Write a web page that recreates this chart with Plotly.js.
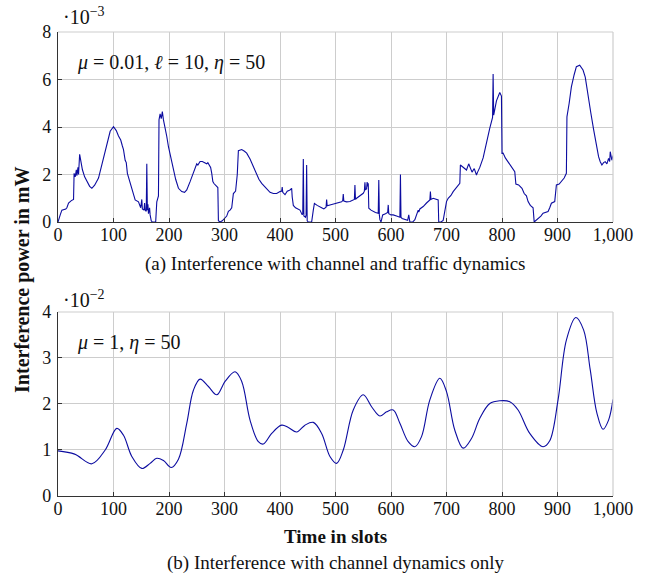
<!DOCTYPE html>
<html>
<head>
<meta charset="utf-8">
<script src="https://cdn.plot.ly/plotly-3.0.1.min.js"></script>
<style>
  html, body { margin: 0; padding: 0; background: #fff; }
  #chart { width: 647px; height: 573px; }
</style>
</head>
<body>
<div id="chart"></div>
<script>
// (a) interference with channel and traffic dynamics, power in units of 1e-3 mW
const topSlots = [
  0, 2, 4, 7, 14, 16, 19, 24, 28, 29, 31, 33, 34, 36, 37, 39, 41, 44, 48, 52, 57, 61, 66, 73, 79, 85, 90, 94,
  100, 105, 109, 113, 116, 118, 121, 123, 125, 128, 130, 133, 136, 139, 145, 149, 151, 152, 155, 156, 157, 159,
  160, 161, 162, 163, 165, 166, 168, 170, 176, 178, 181, 182, 184, 186, 188, 190, 193, 196, 199, 203, 208, 212,
  217, 223, 228, 232, 238, 244, 250, 252, 256, 260, 265, 268, 270, 273, 275, 277, 279, 281, 286, 288, 289, 292,
  296, 300, 304, 307, 310, 313, 316, 320, 323, 325, 331, 336, 340, 346, 352, 358, 362, 367, 374, 382, 388, 394,
  400, 403, 404, 405, 409, 413, 418, 421, 422, 424, 428, 432, 436, 440, 441, 442, 443, 446, 447, 448, 449, 451,
  457, 460, 462, 467, 470, 475, 479, 483, 484, 485, 490, 495, 500, 506, 511, 513, 514, 515, 520, 526, 530, 534,
  535, 536, 538, 544, 550, 552, 553, 554, 556, 557, 558, 559, 560, 564, 568, 572, 577, 578, 579, 580, 582, 585,
  590, 594, 595, 596, 600, 604, 610, 616, 617, 618, 620, 626, 630, 632, 633, 634, 639, 643, 649, 650, 652, 658,
  664, 670, 671, 672, 676, 681, 685, 686, 690, 694, 698, 700, 703, 708, 712, 718, 724, 725, 730, 736, 740, 742,
  746, 750, 754, 756, 760, 766, 772, 778, 783, 784, 785, 790, 796, 799, 800, 802, 806, 812, 818, 823, 825, 830,
  836, 840, 844, 847, 851, 856, 858, 862, 865, 870, 874, 879, 883, 886, 889, 895, 898, 903, 907, 912, 916, 917,
  921, 925, 930, 934, 940, 946, 950, 955, 960, 965, 968, 971, 974, 977, 980, 983, 986, 989, 992, 994, 995, 998, 1000
];
const topPower = [
  0.0, 0.2, 0.3, 0.5, 0.55, 0.6, 0.8, 0.9, 0.95, 2.05, 1.9, 2.2, 1.95, 2.3, 2.0, 2.85, 2.5, 2.2, 1.9, 1.72, 1.5, 1.42, 1.55, 1.85, 2.4, 2.96, 3.5, 3.82,
  4.01, 3.85, 3.62, 3.45, 3.2, 3.05, 2.6, 2.5, 2.05, 1.8, 1.63, 1.4, 1.1, 0.93, 0.85, 0.6, 0.95, 0.55, 0.5, 0.8, 0.5, 0.45,
  2.45, 0.5, 0.75, 0.35, 0.6, 0.3, 0.05, 0.0, 0.0, 0.85, 1.1, 4.3, 4.55, 4.35, 4.65, 4.3, 4.0, 3.6, 3.17, 2.7, 2.19, 1.8,
  1.42, 1.28, 1.25, 1.35, 1.7, 2.05, 2.45, 2.4, 2.55, 2.55, 2.5, 2.45, 2.5, 2.35, 2.3, 2.05, 1.7, 1.62, 1.5, 1.45, 0.05, 0.0,
  0.05, 0.15, 0.25, 0.45, 0.5, 0.6, 1.2, 1.3, 2.0, 3.0, 3.05, 2.98, 2.9, 2.65, 2.33, 2.05, 1.8, 1.63, 1.45, 1.25, 1.2, 1.2,
  1.28, 1.3, 1.47, 1.25, 1.15, 1.3, 1.35, 1.42, 1.05, 0.7, 0.6, 0.55, 0.5, 0.3, 0.35, 2.65, 0.25, 0.2, 0.3, 2.4, 0.05, 0.0,
  0.0, 0.5, 0.78, 0.7, 0.65, 0.6, 0.55, 0.62, 0.95, 0.68, 0.72, 0.75, 0.78, 0.82, 0.85, 0.9, 1.18, 0.88, 0.85, 0.86, 0.9, 0.95,
  1.56, 0.95, 1.0, 1.1, 1.21, 1.3, 1.67, 1.35, 1.4, 1.68, 1.5, 1.63, 0.58, 0.5, 0.44, 0.4, 0.37, 1.77, 0.3, 0.1, 0.0, 0.3,
  0.35, 0.4, 0.72, 0.35, 0.3, 0.3, 0.25, 0.2, 2.0, 0.2, 0.15, 0.1, 0.07, 0.3, 0.05, 0.0, 0.0, 0.1, 0.5, 0.42, 0.55, 0.65,
  0.8, 0.93, 1.28, 0.95, 1.0, 0.95, 0.93, 0.0, 0.0, 0.07, 0.5, 0.86, 1.0, 1.12, 1.28, 1.45, 1.63, 2.4, 2.3, 2.19, 2.45, 2.3,
  2.1, 2.25, 1.98, 2.1, 2.3, 2.7, 3.38, 3.95, 4.4, 6.23, 4.5, 5.1, 5.45, 5.3, 2.89, 2.9, 2.7, 2.5, 2.3, 2.12, 1.6, 1.56,
  1.42, 1.2, 1.1, 0.86, 0.7, 0.6, 0.0, 0.08, 0.15, 0.25, 0.37, 0.4, 0.44, 0.6, 0.79, 0.86, 1.56, 1.6, 1.7, 1.85, 2.05, 4.43,
  5.0, 5.69, 6.2, 6.54, 6.6, 6.4, 6.1, 5.28, 4.6, 3.9, 3.45, 3.03, 2.75, 2.54, 2.4, 2.5, 2.54, 2.45, 2.68, 2.55, 2.96, 2.6, 2.8
];

// (b) interference with channel dynamics only, power in units of 1e-2 mW
const bottomSlots = [
  0, 30, 61, 85, 106, 118, 133, 151, 166, 178, 190, 204, 217, 232, 244, 256, 271, 286, 301, 319, 331, 346,
  361, 370, 385, 403, 415, 430, 445, 460, 475, 490, 502, 514, 532, 550, 565, 580, 592, 604, 616, 631, 643,
  655, 670, 688, 700, 715, 730, 745, 760, 778, 796, 814, 829, 850, 874, 886, 901, 916, 933, 947, 959, 971,
  982, 992, 1000
];
const bottomPower = [
  0.98, 0.91, 0.7, 1.0, 1.47, 1.32, 0.86, 0.6, 0.71, 0.82, 0.77, 0.62, 0.8, 1.58, 2.3, 2.54, 2.38, 2.2, 2.49, 2.7, 2.49, 1.65,
  1.18, 1.13, 1.36, 1.54, 1.49, 1.39, 1.54, 1.6, 1.36, 0.86, 0.71, 1.0, 1.87, 2.2, 1.94, 1.74, 1.83, 1.87, 1.58, 1.18, 1.07,
  1.29, 2.09, 2.56, 2.27, 1.43, 1.04, 1.25, 1.69, 2.01, 2.07, 2.05, 1.87, 1.36, 1.07, 1.2, 2.09, 3.39, 3.88, 3.61, 2.74, 1.8,
  1.45, 1.65, 2.1
];

const xTicks = [0, 100, 200, 300, 400, 500, 600, 700, 800, 900, 1000];
const topTicks = [0, 2, 4, 6, 8];
const bottomTicks = [0, 1, 2, 3, 4];

const lineColor = '#0c0ca0';
const serif = 'Liberation Serif, Times New Roman, serif';
const gridColor = '#cdcdcd';
const axisColor = '#333333';

const traces = [
  {
    x: topSlots, y: topPower, xaxis: 'x', yaxis: 'y',
    type: 'scatter', mode: 'lines',
    line: { color: lineColor, width: 1.1 },
    hoverinfo: 'skip', showlegend: false
  },
  {
    x: bottomSlots, y: bottomPower, xaxis: 'x2', yaxis: 'y2',
    type: 'scatter', mode: 'lines',
    line: { color: lineColor, width: 1.1, shape: 'spline', smoothing: 1 },
    hoverinfo: 'skip', showlegend: false
  }
];

function xAxis(anchor) {
  return {
    anchor: anchor, domain: [0, 1], range: [0, 1000],
    tickvals: xTicks, tickformat: ',d',
    showgrid: true, gridcolor: gridColor, gridwidth: 1,
    zeroline: false, showline: true, linecolor: axisColor, linewidth: 1.2,
    ticks: 'inside', ticklen: 4, tickcolor: axisColor, ticklabelstandoff: -4,
    tickfont: { family: serif, size: 18, color: '#111' }
  };
}
function yAxis(anchor, domain, range, ticks) {
  return {
    anchor: anchor, domain: domain, range: range,
    tickvals: ticks,
    showgrid: true, gridcolor: gridColor, gridwidth: 1,
    zeroline: false, showline: true, linecolor: axisColor, linewidth: 1.2,
    ticks: 'inside', ticklen: 4, tickcolor: axisColor, ticklabelstandoff: 2,
    tickfont: { family: serif, size: 18, color: '#111' }
  };
}

// thin grey frame on the top and right edges of each panel
function frame(xr, yr) {
  return [
    { type: 'line', xref: xr + ' domain', yref: yr + ' domain', x0: 0, x1: 1, y0: 1, y1: 1,
      line: { color: gridColor, width: 1.2 } },
    { type: 'line', xref: xr + ' domain', yref: yr + ' domain', x0: 1, x1: 1, y0: 0, y1: 1,
      line: { color: gridColor, width: 1.2 } }
  ];
}

const txt = (text, x, y, opts) => Object.assign({
  text: text, x: x, y: y, xref: 'paper', yref: 'paper', showarrow: false,
  font: { family: serif, size: 18, color: '#111' }
}, opts || {});

const layout = {
  width: 647, height: 573,
  margin: { l: 58, r: 34, t: 32, b: 77 },
  paper_bgcolor: '#ffffff', plot_bgcolor: '#ffffff',
  xaxis: xAxis('y'),
  yaxis: yAxis('x', [0.5905, 1], [0, 8], topTicks),
  xaxis2: xAxis('y2'),
  yaxis2: yAxis('x2', [0, 0.3966], [0, 4], bottomTicks),
  shapes: frame('x', 'y').concat(frame('x2', 'y2')),
  annotations: [
    txt('·10<sup>−3</sup>', 0.006, 1.034, { xanchor: 'left', yanchor: 'middle', font: { family: serif, size: 20, color: '#111' } }),
    txt('·10<sup>−2</sup>', 0.006, 0.424, { xanchor: 'left', yanchor: 'middle', font: { family: serif, size: 20, color: '#111' } }),
    txt('<i>μ</i> = 0.01, <i>ℓ</i> = 10, <i>η</i> = 50', 0.03, 0.935, { xanchor: 'left', yanchor: 'middle', font: { family: serif, size: 20, color: '#111' } }),
    txt('<i>μ</i> = 1, <i>η</i> = 50', 0.03, 0.33, { xanchor: 'left', yanchor: 'middle', font: { family: serif, size: 20, color: '#111' } }),
    txt('(a) Interference with channel and traffic dynamics', 0.5, 0.5, { xanchor: 'center', yanchor: 'middle', font: { family: serif, size: 19, color: '#111' } }),
    txt('(b) Interference with channel dynamics only', 0.5, -0.1444, { xanchor: 'center', yanchor: 'middle', font: { family: serif, size: 19, color: '#111' } }),
    txt('<b>Time in slots</b>', 0.5, -0.088, { xanchor: 'center', yanchor: 'middle', font: { family: serif, size: 19, color: '#111' } }),
    txt('<b>Interference power in mW</b>', -0.065, 0.4655, { xanchor: 'center', yanchor: 'middle', textangle: -90, font: { family: serif, size: 20, color: '#111' } })
  ]
};

Plotly.newPlot('chart', traces, layout, { displayModeBar: false, staticPlot: true });
</script>
</body>
</html>
